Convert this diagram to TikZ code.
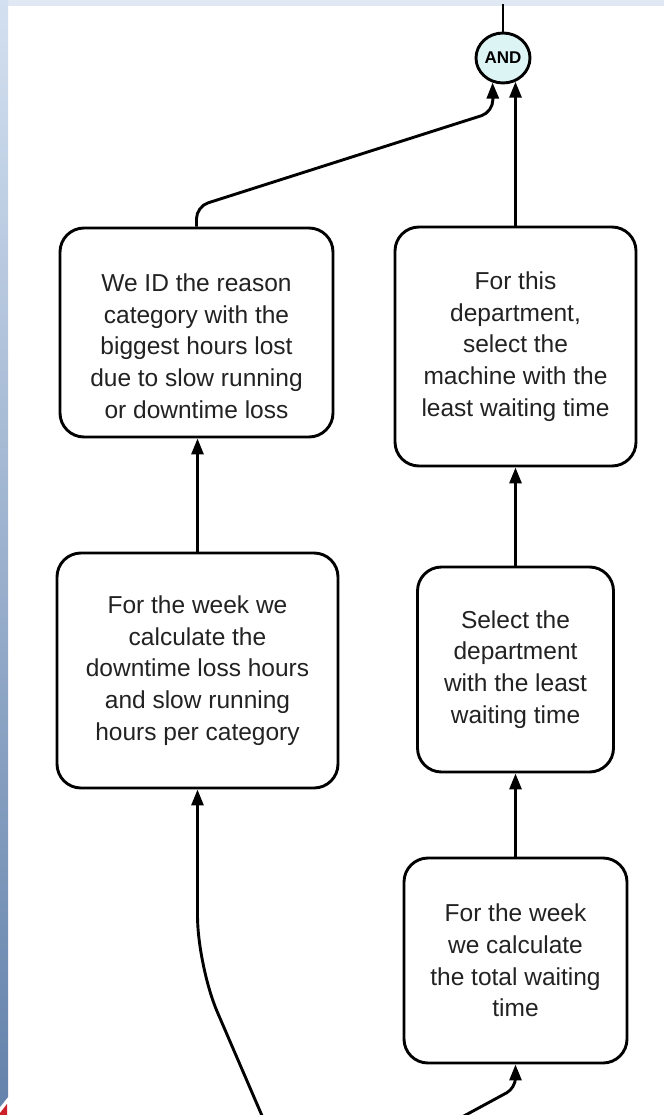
\documentclass[tikz,border=0pt]{standalone}
\usepackage{fontspec}
\setmainfont{Liberation Sans}
\usetikzlibrary{arrows.meta,shapes.geometric}

\definecolor{gatefill}{HTML}{DCF4F4}
\definecolor{inktext}{HTML}{222222}
\definecolor{stripTop}{HTML}{D3E0F0}
\definecolor{stripMid}{HTML}{A6C0E2}
\definecolor{stripBot}{HTML}{6482AB}
\definecolor{bandTop}{HTML}{DFE8F3}
\definecolor{cornerRed}{HTML}{CC1F2A}

\begin{document}
\begin{tikzpicture}[x=1pt,y=-1pt,
  stepbox/.style={draw=black, line width=2.9pt, rounded corners=24pt, fill=white,
    inner sep=0pt, align=center, text=inktext,
    font=\fontsize{24.5}{31.7}\selectfont},
  steptext/.style={align=center, inner sep=0pt, text=inktext,
    font=\fontsize{24.5}{31.7}\selectfont},
  flow/.style={draw=black, line width=2.9pt, -{Triangle[length=16pt,width=12pt]}},
  plain/.style={draw=black, line width=2.9pt},
  gate/.style={ellipse, draw=black, line width=2.9pt, fill=gatefill,
    minimum width=54pt, minimum height=50pt, inner sep=0pt,
    font=\fontsize{17}{17}\selectfont\bfseries}
]
\useasboundingbox (0,0) rectangle (664,1115);

% page frame: white sheet, light band on top, blue strip on the left
\fill[white] (0,0) rectangle (664,1115);
\fill[bandTop] (0,0) rectangle (664,6);
\shade[top color=stripTop, middle color=stripMid, bottom color=stripBot]
  (0,0) -- (8,0) -- (8,1097) -- (0,1107) -- cycle;
\fill[cornerRed] (0,1115) -- (0,1113) -- (7,1104) -- (7,1115) -- cycle;

% AND gate
\node[gate] (and) at (503,58) {AND};
\coordinate (topend) at (503,4);

% process steps
\node[stepbox, minimum width=273pt, minimum height=209pt] (a) at (196.5,332.5) {};
\node[steptext] (atext) at (196.5,346) {We ID the reason\\category with the\\biggest hours lost\\due to slow running\\or downtime loss};

\node[stepbox, minimum width=241pt, minimum height=239pt] (b) at (515.5,346.5)
  {For this\\department,\\select the\\machine with the\\least waiting time};

\node[stepbox, minimum width=281pt, minimum height=235pt] (c) at (197.5,670.5)
  {For the week we\\calculate the\\downtime loss hours\\and slow running\\hours per category};

\node[stepbox, minimum width=196pt, minimum height=205pt] (d) at (515.5,669.5)
  {Select the\\department\\with the least\\waiting time};

\node[stepbox, minimum width=223pt, minimum height=205pt] (e) at (515.5,960.5)
  {For the week\\we calculate\\the total waiting\\time};

% connectors
\draw[plain] (and.north) -- (topend);
\draw[flow, rounded corners=12pt] (a.north) -- ++(0,-20) -- (493,112) -- (and.247);
\draw[flow] (b.north) -- (b.north |- and.298);
\draw[flow] (c.north) -- (c.north |- a.south);
\draw[flow] (d.north) -- (d.north |- b.south);
\draw[flow] (e.north) -- (e.north |- d.south);

\coordinate (in1) at (263,1118);
\coordinate (bend1) at (197.5,966);
\draw[flow, rounded corners=50pt] (in1) -- (bend1) -- (c.south);

\coordinate (in2) at (462,1117);
\coordinate (bend2) at (515.5,1088);
\draw[flow, rounded corners=10pt] (in2) -- (bend2) -- (e.south);
\end{tikzpicture}
\end{document}
